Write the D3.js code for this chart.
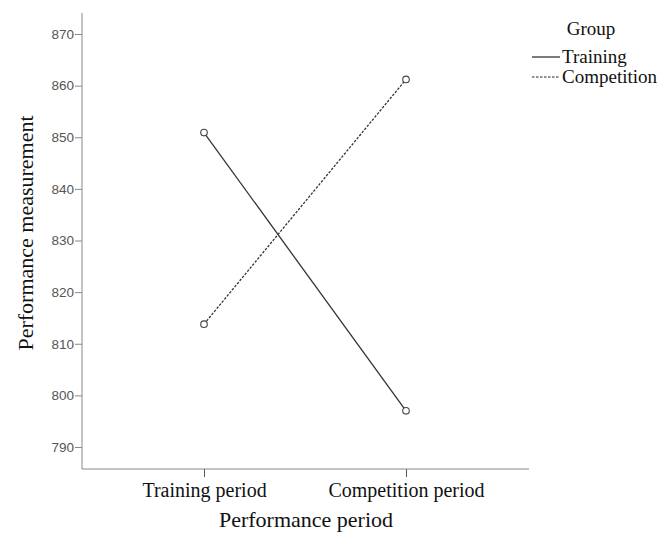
<!DOCTYPE html>
<html><head><meta charset="utf-8">
<script src="https://cdn.jsdelivr.net/npm/d3@7"></script>
<style>body{margin:0;background:#fff}svg{display:block}</style>
</head><body>
<svg id="c" width="663" height="533"></svg>
<script>
const categories = ["Training period", "Competition period"];
const groups = ["Training", "Competition"];
const trainingValues = [850.9, 797.0];
const competitionValues = [813.8, 861.2];
const yTicks = [790, 800, 810, 820, 830, 840, 850, 860, 870];

(function () {
const svg = d3.select("#c");
const mLeft = 82, mRight = 529, mTop = 13, mBottom = 469;
const y = d3.scaleLinear().domain([790, 870]).range([447, 34]);
const x = d3.scalePoint().domain(categories).range([204, 406]);
const axisColor = "#888";
const serif = "Liberation Serif, Times New Roman, serif";

// y axis
const ya = svg.append("g").attr("transform", `translate(${mLeft},0)`)
  .call(d3.axisLeft(y).tickValues(yTicks).tickSize(7).tickSizeOuter(0).tickFormat(d3.format("d")));
ya.select(".domain").remove();
ya.selectAll("line").attr("stroke", axisColor);
ya.selectAll("text").attr("font-family", "Liberation Sans, Arial, sans-serif").attr("font-size", 13.5).attr("fill", "#555").attr("x", -8);
svg.append("line").attr("x1", mLeft).attr("x2", mLeft).attr("y1", mTop).attr("y2", mBottom).attr("stroke", axisColor);

// x axis
const xa = svg.append("g").attr("transform", `translate(0,${mBottom})`)
  .call(d3.axisBottom(x).tickSize(8).tickSizeOuter(0));
xa.select(".domain").remove();
xa.selectAll("line").attr("stroke", "#555");
xa.selectAll("text").attr("font-family", serif).attr("font-size", 20).attr("fill", "#111")
  .attr("y", 28).attr("dy", 0);
svg.append("line").attr("x1", mLeft).attr("x2", mRight).attr("y1", mBottom).attr("y2", mBottom).attr("stroke", axisColor);

// titles
svg.append("text").attr("x", 306).attr("y", 527).attr("text-anchor", "middle")
  .attr("font-family", serif).attr("font-size", 22).attr("fill", "#111").text("Performance period");
svg.append("text").attr("transform", "translate(33,233) rotate(-90)").attr("text-anchor", "middle")
  .attr("font-family", serif).attr("font-size", 22).attr("fill", "#111").text("Performance measurement");

// lines
const series = [
  {name: groups[0], values: trainingValues, dash: null},
  {name: groups[1], values: competitionValues, dash: "2.5,1.5"}
];
const line = d3.line().x((d, i) => x(categories[i])).y(d => y(d));
series.forEach(s => {
  svg.append("path").attr("d", line(s.values)).attr("fill", "none").attr("stroke", "#333")
    .attr("stroke-width", 1.3).attr("stroke-dasharray", s.dash);
  svg.selectAll(null).data(s.values).enter().append("circle")
    .attr("cx", (d, i) => x(categories[i])).attr("cy", d => y(d)).attr("r", 3.3)
    .attr("fill", "#fff").attr("stroke", "#444").attr("stroke-width", 1.1);
});

// legend
svg.append("text").attr("x", 591).attr("y", 35).attr("text-anchor", "middle").attr("font-family", serif)
  .attr("font-size", 19).attr("fill", "#111").text("Group");
series.forEach((s, i) => {
  const yy = 57 + i * 20;
  svg.append("line").attr("x1", 532).attr("x2", 560).attr("y1", yy).attr("y2", yy)
    .attr("stroke", "#222").attr("stroke-width", 1.2).attr("stroke-dasharray", s.dash);
  svg.append("text").attr("x", 562).attr("y", yy + 6).attr("font-family", serif).attr("font-size", 19)
    .attr("fill", "#111").text(s.name);
});
})();
</script>
</body></html>
